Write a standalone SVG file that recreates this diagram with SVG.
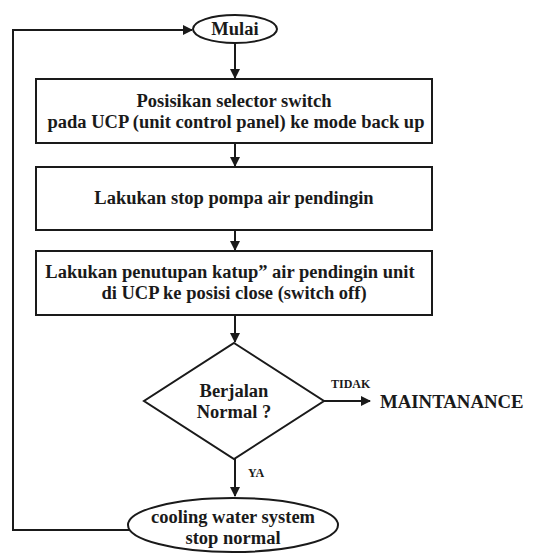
<svg xmlns="http://www.w3.org/2000/svg" width="547" height="555" viewBox="0 0 547 555">
<style>
.s{fill:#fff;stroke:#1a1a1a;stroke-width:2}
.t{font-family:"Liberation Serif","Times New Roman",serif;font-weight:bold;font-size:18.5px;fill:#1a1a1a;text-anchor:middle}
.c{fill:none;stroke:#1a1a1a;stroke-width:2}
.sm{font-family:"Liberation Serif","Times New Roman",serif;font-weight:bold;font-size:12px;fill:#1a1a1a}
</style>
<defs>
<marker id="a" markerWidth="10" markerHeight="10" refX="9" refY="5" orient="auto" markerUnits="userSpaceOnUse" viewBox="0 0 10 10">
<path d="M0,0 L10,5 L0,10 z" fill="#1a1a1a"/>
</marker>
</defs>
<g id="connectors">
<path class="c" d="M235,43 V78" marker-end="url(#a)"/>
<path class="c" d="M235,143 V166" marker-end="url(#a)"/>
<path class="c" d="M235,230 V250" marker-end="url(#a)"/>
<path class="c" d="M235,315 V342" marker-end="url(#a)"/>
<path class="c" d="M324,401 H370" marker-end="url(#a)"/>
<path class="c" d="M235,459 V496" marker-end="url(#a)"/>
<path class="c" d="M129,530 H13 V30 H192" marker-end="url(#a)"/>
<text class="sm" x="331" y="388">TIDAK</text>
<text class="sm" x="248" y="477">YA</text>
</g>
<g id="mulai">
<ellipse class="s" cx="235" cy="29" rx="42" ry="14"/>
<text class="t" x="235" y="35">Mulai</text>
</g>
<g id="box1">
<rect class="s" x="36" y="79" width="396" height="64"/>
<text class="t" x="234" y="107">Posisikan selector switch</text>
<text class="t" x="236" y="128">pada UCP (unit control panel) ke mode back up</text>
</g>
<g id="box2">
<rect class="s" x="36" y="167" width="396" height="63"/>
<text class="t" x="234" y="204">Lakukan stop pompa air pendingin</text>
</g>
<g id="box3">
<rect class="s" x="36" y="251" width="396" height="64"/>
<text class="t" x="230" y="278">Lakukan penutupan katup” air pendingin unit</text>
<text class="t" x="234" y="299">di UCP ke posisi close (switch off)</text>
</g>
<g id="decision">
<polygon class="s" points="234,343 324,401 234,459 144,401"/>
<text class="t" x="234" y="397">Berjalan</text>
<text class="t" x="234" y="418">Normal ?</text>
</g>
<g id="maintanance">
<text class="t" x="380" y="408" style="font-size:18.8px;text-anchor:start">MAINTANANCE</text>
</g>
<g id="end">
<ellipse class="s" cx="233" cy="525" rx="105" ry="27"/>
<text class="t" x="233" y="523">cooling water system</text>
<text class="t" x="233" y="544">stop normal</text>
</g>
</svg>
